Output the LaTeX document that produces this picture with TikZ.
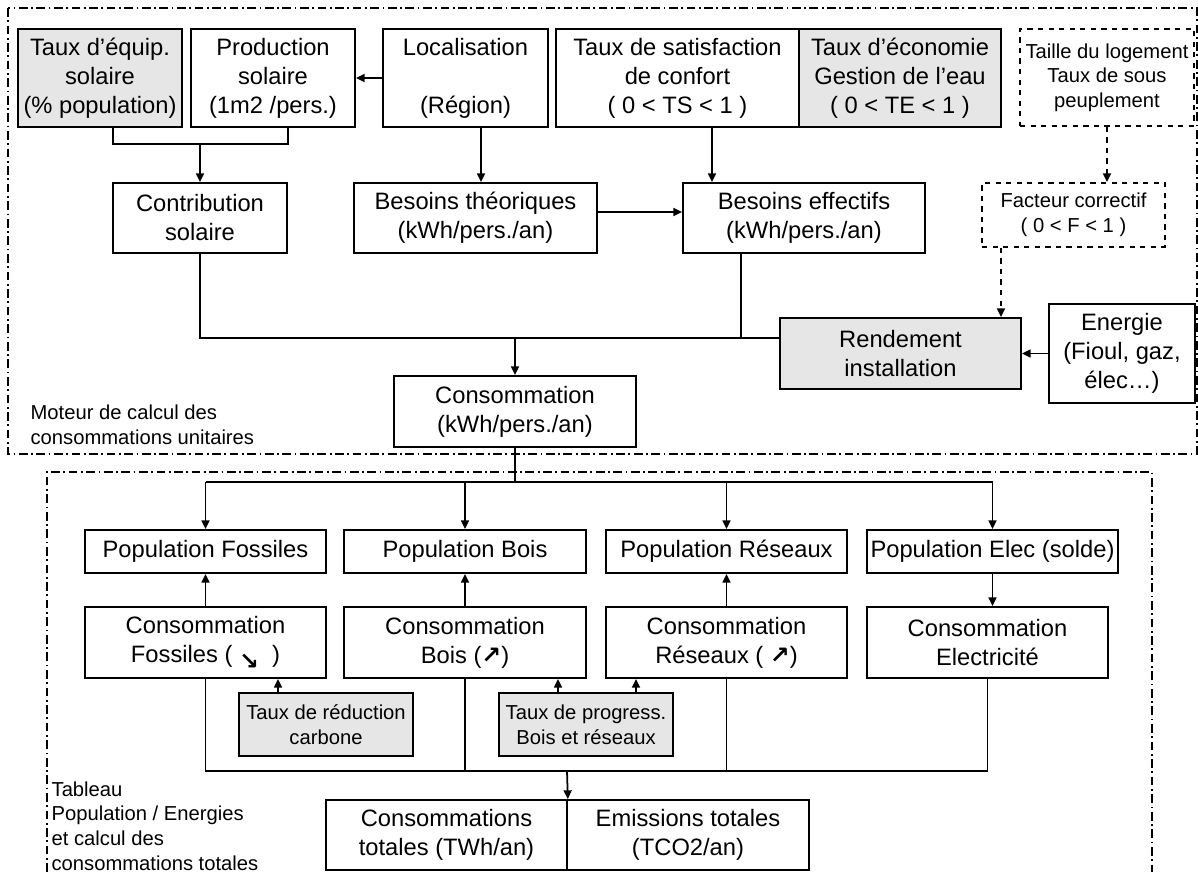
\documentclass[tikz,border=0pt]{standalone}
\usepackage{fontspec}
\setmainfont{Liberation Sans}
\newfontfamily\arrowfont{DejaVu Sans}
\usepackage{tikz}
\usetikzlibrary{arrows.meta,positioning}
\definecolor{boxgray}{RGB}{230,230,230}
\newcommand{\bigtxt}{\fontsize{13.5pt}{16.5pt}\selectfont}
\newcommand{\smalltxt}{\fontsize{11.5pt}{14pt}\selectfont}

\begin{document}
\begin{tikzpicture}[
  x=0.02cm, y=-0.02cm,
  line width=1pt,
  >={Triangle[length=5pt,width=4.5pt]},
  every node/.style={font=\bigtxt},
  box/.style={draw,rectangle,align=center,inner sep=1pt},
  graybox/.style={box,fill=boxgray},
  dashbox/.style={box,dashed,font=\smalltxt},
  sz/.style 2 args={minimum width=#1cm,minimum height=#2cm},
  frame/.style={line width=0.6pt,dash pattern=on 5pt off 2pt on 1pt off 2pt},
  note/.style={font=\smalltxt,align=left,anchor=west,inner sep=1pt},
]
\useasboundingbox (0,0) rectangle (1198,872);

% Moteur de calcul (top frame)
\node[graybox,sz={3.28}{1.96}] (equip) at (100,78) {Taux d’équip.\\solaire\\(\% population)};
\node[box,sz={3.28}{1.96}] (prod) at (273,78) {Production\\solaire\\(1m2 /pers.)};
\node[box,sz={3.3}{1.96}] (loc) at (465.5,78) {Localisation\\~\\(Région)};
\node[box,sz={4.86}{1.96}] (satis) at (677.5,78) {Taux de satisfaction\\de confort\\( 0 < TS < 1 )};
\node[graybox,sz={4.04}{1.96}] (econ) at (900,78) {Taux d’économie\\Gestion de l’eau\\( 0 < TE < 1 )};
\node[dashbox,sz={3.48}{1.94}] (taille) at (1107,77.5) {Taille du logement\\Taux de sous\\peuplement};
\node[box,sz={3.48}{1.4}] (contrib) at (200,218) {Contribution\\solaire};
\node[box,sz={4.86}{1.4}] (bth) at (475.5,218) {Besoins théoriques\\(kWh/pers./an)};
\node[box,sz={4.84}{1.4}] (beff) at (804,218) {Besoins effectifs\\(kWh/pers./an)};
\node[dashbox,sz={3.66}{1.28}] (facteur) at (1073.5,215) {Facteur correctif\\( 0 < F < 1 )};
\node[graybox,sz={4.82}{1.42}] (rend) at (900.5,353.5) {Rendement\\installation};
\node[box,sz={2.92}{1.98}] (energie) at (1122,353.5) {Energie\\(Fioul, gaz,\\élec…)};
\node[box,sz={4.84}{1.42}] (conso) at (515,411.5) {Consommation\\(kWh/pers./an)};
\node[note] (moteur) at (28,425) {Moteur de calcul des\\consommations unitaires};
\coordinate (solbus) at (200,144);
\coordinate (bus1) at (515,338);
\draw[->] (loc.west) -- (prod.east);
\draw ([xshift=0.26cm]equip.south) |- (solbus) -| ([xshift=0.3cm]prod.south);
\draw[->] (solbus) -- (contrib.north);
\draw[->] ([xshift=0.31cm]loc.south) -- ([xshift=0.31cm]loc.south |- bth.north);
\draw[->] ([yshift=0.12cm]bth.east) -- ([yshift=0.12cm]beff.west);
\draw[->] ([xshift=0.69cm]satis.south) -- ([xshift=0.69cm]satis.south |- beff.north);
\draw[->,dashed] (taille.south) -- (taille.south |- facteur.north);
\draw[->,dashed] ([xshift=-1.45cm]facteur.south) -- ([xshift=-1.45cm]facteur.south |- rend.north);
\draw (contrib.south) |- ([yshift=0.31cm]rend.west);
\draw ([xshift=-1.26cm]beff.south) -- ([xshift=-1.26cm]beff.south |- bus1);
\draw[->] (bus1) -- (conso.north);
\draw[->] (energie.west) -- (rend.east);
\draw[frame] (8,8) rectangle (1197,454);

% Tableau population / energies (bottom frame)
\node[box,sz={4.82}{0.86}] (popf) at (205.5,551.5) {Population Fossiles};
\node[box,sz={4.84}{0.86}] (popb) at (465,551.5) {Population Bois};
\node[box,sz={4.82}{0.86}] (popr) at (726.5,551.5) {Population Réseaux};
\node[box,sz={5.02}{0.86}] (pope) at (992.5,551.5) {Population Elec (solde)};
\node[box,sz={4.82}{1.42}] (cf) at (205.5,642.5) {Consommation\\Fossiles ( \raisebox{-4pt}{\arrowfont\bfseries ↘}\ \ )};
\node[box,sz={4.84}{1.42}] (cb) at (465,642.5) {Consommation\\Bois ({\arrowfont\bfseries ↗})};
\node[box,sz={4.82}{1.42}] (cr) at (726.5,642.5) {Consommation\\Réseaux ( {\arrowfont\bfseries ↗})};
\node[box,sz={4.82}{1.42}] (ce) at (987.5,642.5) {Consommation\\Electricité};
\node[graybox,font=\smalltxt,sz={3.48}{1.26}] (red) at (326,724.5) {Taux de réduction\\carbone};
\node[graybox,font=\smalltxt,sz={3.48}{1.26}] (prog) at (586,724.5) {Taux de progress.\\Bois et réseaux};
\node[box,sz={4.82}{1.4}] (ctot) at (446.5,835) {Consommations\\totales (TWh/an)};
\node[box,sz={4.84}{1.4}] (emis) at (688,835) {Emissions totales\\(TCO2/an)};
\node[note] (tableau) at (49,826) {Tableau\\Population / Energies\\et calcul des\\consommations totales};
\coordinate (bus2) at (515,482);
\coordinate (bus3) at (567,771);
\draw (conso.south) -- (bus2);
\draw (popf.north |- bus2) -- (pope.north |- bus2);
\foreach \p in {popf,popb,popr,pope}
  \draw[->] (\p.north |- bus2) -- (\p.north);
\foreach \c/\p in {cf/popf,cb/popb,cr/popr}
  \draw[->] (\c.north) -- (\p.south);
\draw[->] (pope.south) -- (pope.south |- ce.north);
\draw[->] ([xshift=-0.96cm]red.north) -- ([xshift=-0.96cm]red.north |- cf.south);
\draw[->] ([xshift=-0.56cm]prog.north) -- ([xshift=-0.56cm]prog.north |- cb.south);
\draw[->] ([xshift=1cm]prog.north) -- ([xshift=1cm]prog.north |- cr.south);
\draw (cf.south) |- (ce.south |- bus3) -- (ce.south);
\draw (cb.south) -- (cb.south |- bus3);
\draw (cr.south) -- (cr.south |- bus3);
\draw[->] (bus3) -- (ctot.north east);
\draw[frame] (47,872) -- (47,472) -- (1152,472) -- (1152,872);

\end{tikzpicture}
\end{document}
